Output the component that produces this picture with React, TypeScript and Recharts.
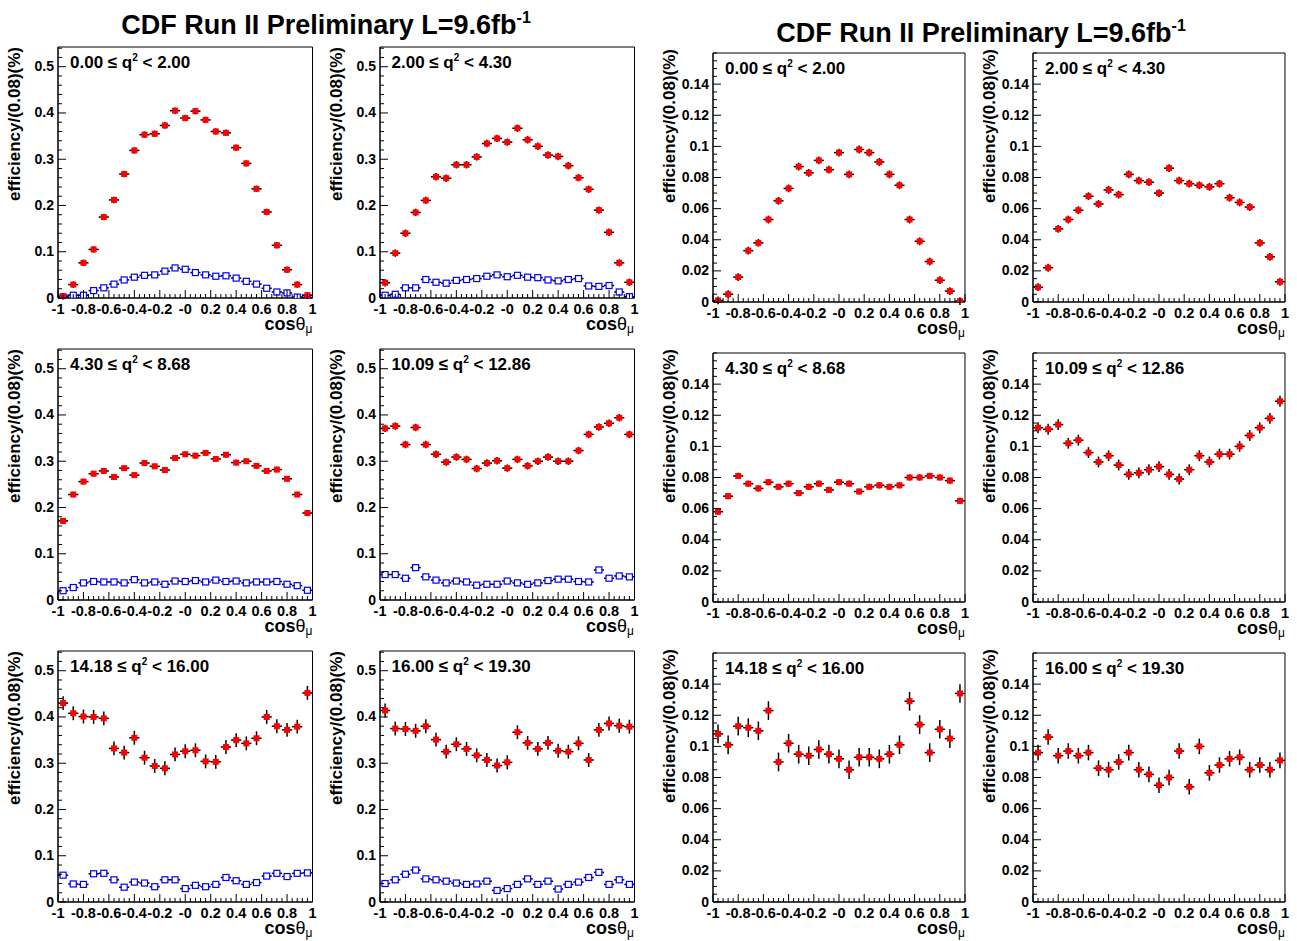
import React from 'react';
import { ScatterChart, Scatter, XAxis, YAxis, ErrorBar, ReferenceArea } from 'recharts';

// bin centres of cos(theta_mu), bin width 0.08
const cosBins = [
  -0.96, -0.88, -0.8, -0.72, -0.64, -0.56, -0.48, -0.4, -0.32, -0.24, -0.16, -0.08, 0,
  0.08, 0.16, 0.24, 0.32, 0.4, 0.48, 0.56, 0.64, 0.72, 0.8, 0.88, 0.96,
];
const binHalf = 0.04;

const qBins = [
  ['0.00', '2.00'],
  ['2.00', '4.30'],
  ['4.30', '8.68'],
  ['10.09', '12.86'],
  ['14.18', '16.00'],
  ['16.00', '19.30'],
];

// left block: red = full squares, blue = open squares
const leftRed1 = [0.004, 0.029, 0.076, 0.105, 0.175, 0.212, 0.268, 0.319, 0.353, 0.355, 0.373, 0.405, 0.389, 0.404, 0.385, 0.36, 0.357, 0.325, 0.291, 0.236, 0.186, 0.114, 0.061, 0.029, 0.006];
const leftBlue1 = [0.002, 0.006, 0.006, 0.016, 0.022, 0.03, 0.039, 0.045, 0.049, 0.05, 0.058, 0.065, 0.062, 0.055, 0.05, 0.047, 0.048, 0.043, 0.036, 0.03, 0.021, 0.013, 0.011, 0.002, 0.001];
const leftRed2 = [0.033, 0.097, 0.14, 0.185, 0.211, 0.262, 0.259, 0.288, 0.288, 0.305, 0.334, 0.345, 0.337, 0.367, 0.342, 0.328, 0.309, 0.306, 0.286, 0.26, 0.235, 0.19, 0.142, 0.076, 0.034];
const leftBlue2 = [0.006, 0.008, 0.022, 0.022, 0.04, 0.034, 0.032, 0.038, 0.04, 0.042, 0.047, 0.05, 0.046, 0.049, 0.045, 0.044, 0.039, 0.037, 0.04, 0.042, 0.026, 0.025, 0.027, 0.013, 0.003];
const leftRed3 = [0.171, 0.228, 0.256, 0.273, 0.279, 0.266, 0.285, 0.27, 0.296, 0.289, 0.281, 0.307, 0.315, 0.312, 0.318, 0.305, 0.314, 0.297, 0.3, 0.29, 0.279, 0.282, 0.262, 0.228, 0.188];
const leftBlue3 = [0.02, 0.027, 0.037, 0.04, 0.039, 0.039, 0.037, 0.044, 0.037, 0.039, 0.034, 0.041, 0.04, 0.042, 0.039, 0.043, 0.04, 0.041, 0.037, 0.039, 0.039, 0.04, 0.034, 0.031, 0.021];
const leftRed4 = [0.371, 0.376, 0.336, 0.373, 0.336, 0.315, 0.298, 0.309, 0.304, 0.284, 0.296, 0.301, 0.285, 0.304, 0.29, 0.3, 0.309, 0.3, 0.3, 0.323, 0.358, 0.374, 0.382, 0.394, 0.358];
const leftBlue4 = [0.055, 0.055, 0.047, 0.07, 0.05, 0.043, 0.037, 0.041, 0.039, 0.032, 0.034, 0.034, 0.041, 0.037, 0.034, 0.037, 0.042, 0.045, 0.045, 0.04, 0.039, 0.065, 0.047, 0.052, 0.05];
const leftRed5 = [0.43, 0.408, 0.401, 0.4, 0.397, 0.332, 0.323, 0.355, 0.312, 0.294, 0.289, 0.319, 0.326, 0.328, 0.304, 0.303, 0.335, 0.35, 0.343, 0.354, 0.4, 0.38, 0.372, 0.379, 0.452];
const leftBlue5 = [0.058, 0.039, 0.038, 0.061, 0.062, 0.048, 0.032, 0.043, 0.041, 0.033, 0.048, 0.048, 0.029, 0.036, 0.033, 0.038, 0.053, 0.046, 0.038, 0.042, 0.056, 0.062, 0.055, 0.062, 0.063];
const leftRed6 = [0.414, 0.375, 0.374, 0.37, 0.38, 0.351, 0.325, 0.341, 0.331, 0.317, 0.307, 0.295, 0.302, 0.367, 0.344, 0.331, 0.344, 0.327, 0.325, 0.343, 0.307, 0.372, 0.386, 0.381, 0.379];
const leftBlue6 = [0.04, 0.048, 0.06, 0.069, 0.05, 0.048, 0.045, 0.041, 0.038, 0.039, 0.045, 0.025, 0.029, 0.038, 0.05, 0.038, 0.045, 0.028, 0.038, 0.043, 0.053, 0.064, 0.038, 0.048, 0.038];
const leftRedErr = [0.007, 0.008, 0.006, 0.008, 0.015, 0.015];
const leftBlueErr = [0.002, 0.002, 0.002, 0.002, 0.003, 0.003];

// right block
const rightRed1 = [0.001, 0.005, 0.016, 0.033, 0.038, 0.053, 0.065, 0.073, 0.087, 0.083, 0.091, 0.085, 0.096, 0.082, 0.098, 0.096, 0.09, 0.082, 0.075, 0.053, 0.039, 0.026, 0.014, 0.007, 0.0005];
const rightRed2 = [0.0095, 0.022, 0.047, 0.053, 0.059, 0.068, 0.063, 0.072, 0.069, 0.082, 0.078, 0.077, 0.07, 0.086, 0.078, 0.076, 0.075, 0.074, 0.076, 0.067, 0.064, 0.061, 0.038, 0.029, 0.013];
const rightRed3 = [0.058, 0.068, 0.081, 0.076, 0.073, 0.077, 0.074, 0.076, 0.07, 0.074, 0.076, 0.072, 0.077, 0.076, 0.071, 0.074, 0.075, 0.074, 0.075, 0.08, 0.08, 0.081, 0.08, 0.078, 0.065];
const rightRed4 = [0.112, 0.111, 0.114, 0.102, 0.104, 0.096, 0.09, 0.094, 0.088, 0.082, 0.083, 0.085, 0.087, 0.082, 0.079, 0.085, 0.094, 0.09, 0.095, 0.095, 0.1, 0.107, 0.112, 0.118, 0.129];
const rightRed5 = [0.108, 0.101, 0.113, 0.112, 0.11, 0.123, 0.09, 0.102, 0.095, 0.094, 0.098, 0.095, 0.092, 0.085, 0.093, 0.093, 0.092, 0.095, 0.101, 0.129, 0.114, 0.096, 0.111, 0.105, 0.134];
const rightRed6 = [0.096, 0.106, 0.094, 0.097, 0.094, 0.096, 0.086, 0.085, 0.09, 0.096, 0.085, 0.082, 0.075, 0.08, 0.097, 0.074, 0.1, 0.083, 0.088, 0.092, 0.093, 0.085, 0.088, 0.085, 0.091];
const rightRedErr = [0.0025, 0.0025, 0.002, 0.0035, 0.006, 0.005];

// axis ticks
const xMajor = [-1, -0.8, -0.6, -0.4, -0.2, 0, 0.2, 0.4, 0.6, 0.8, 1];
const xMajorLabels = ['-1', '-0.8', '-0.6', '-0.4', '-0.2', '-0', '0.2', '0.4', '0.6', '0.8', '1'];
const yLeftMajor = [0, 0.1, 0.2, 0.3, 0.4, 0.5];
const yLeftLabels = ['0', '0.1', '0.2', '0.3', '0.4', '0.5'];
const yRightMajor = [0, 0.02, 0.04, 0.06, 0.08, 0.1, 0.12, 0.14];
const yRightLabels = ['0', '0.02', '0.04', '0.06', '0.08', '0.1', '0.12', '0.14'];

const FONT = '"Liberation Sans", Arial, Helvetica, sans-serif';

function withMinors(majors: number[], n: number, max: number) {
  const step = (majors[1] - majors[0]) / n;
  const out: number[] = [];
  for (let v = majors[0]; v <= max + 1e-9; v += step) out.push(Math.round(v * 10000) / 10000);
  return out;
}

const findIdx = (arr: number[], v: number) => arr.findIndex((m) => Math.abs(m - v) < 1e-6);

const xTicks = withMinors(xMajor, 5, 1);

const XTick = (props: any) => {
  const { x, y, payload } = props;
  const i = findIdx(xMajor, payload.value);
  return (
    <g>
      <line x1={x} x2={x} y1={y} y2={y - (i >= 0 ? 8 : 4)} stroke="#000" />
      {i >= 0 && (
        <text x={x} y={y + 15.5} textAnchor="middle" fontSize={14.5} fontWeight="bold" fontFamily={FONT} fill="#000">
          {xMajorLabels[i]}
        </text>
      )}
    </g>
  );
};

const makeYTick = (majors: number[], labels: string[]) => (props: any) => {
  const { x, y, payload } = props;
  const i = findIdx(majors, payload.value);
  return (
    <g>
      <line x1={x} x2={x + (i >= 0 ? 8 : 4)} y1={y} y2={y} stroke="#000" />
      {i >= 0 && (
        <text x={x - 4} y={y + 4.5} textAnchor="end" fontSize={14} fontWeight="bold" fontFamily={FONT} fill="#000">
          {labels[i]}
        </text>
      )}
    </g>
  );
};

const toPoints = (vals: number[], err: number) =>
  cosBins.map((x, i) => ({ x, y: vals[i], ex: binHalf, ey: err }));

const redSquare = (p: any) => <rect x={p.cx - 3} y={p.cy - 3} width={6} height={6} fill="#ff0000" />;
const blueSquare = (p: any) => (
  <rect x={p.cx - 3} y={p.cy - 3} width={6} height={6} fill="#fff" stroke="#0000ff" strokeWidth={1.2} />
);

interface PanelProps {
  left: number;
  top: number;
  w: number;
  h: number;
  yMax: number;
  right?: boolean;
  red: number[];
  redErr: number;
  blue?: number[];
  blueErr?: number;
}

function Panel({ left, top, w, h, yMax, right, red, redErr, blue, blueErr }: PanelProps) {
  const ML = 50, MT = 8, MR = 8, XH = 28;
  const yTicks = right ? withMinors(yRightMajor, 4, 0.16) : withMinors(yLeftMajor, 5, 0.54);
  const YTick = right ? makeYTick(yRightMajor, yRightLabels) : makeYTick(yLeftMajor, yLeftLabels);
  return (
    <div style={{ position: 'absolute', left: left - ML, top: top - MT }}>
      <ScatterChart width={ML + w + MR} height={MT + h + XH} margin={{ top: MT, right: MR, bottom: 0, left: 0 }}>
        <XAxis type="number" dataKey="x" domain={[-1, 1]} ticks={xTicks} interval={0} tick={XTick}
          tickSize={0} tickMargin={0} height={XH} allowDataOverflow axisLine={{ stroke: '#000' }} tickLine={false} />
        <YAxis type="number" dataKey="y" domain={[0, yMax]} ticks={yTicks} interval={0} tick={YTick}
          tickSize={0} tickMargin={0} width={ML} allowDataOverflow axisLine={{ stroke: '#000' }} tickLine={false} />
        <ReferenceArea x1={-1} x2={1} y1={0} y2={yMax} fill="none" stroke="#000" strokeWidth={1} />
        {blue && (
          <Scatter data={toPoints(blue, blueErr ?? 0)} shape={blueSquare} isAnimationActive={false}>
            <ErrorBar dataKey="ex" direction="x" width={0} stroke="#000" isAnimationActive={false} />
            <ErrorBar dataKey="ey" direction="y" width={0} stroke="#000" isAnimationActive={false} />
          </Scatter>
        )}
        <Scatter data={toPoints(red, redErr)} shape={redSquare} isAnimationActive={false}>
          <ErrorBar dataKey="ex" direction="x" width={0} stroke="#000" isAnimationActive={false} />
          <ErrorBar dataKey="ey" direction="y" width={0} stroke="#000" isAnimationActive={false} />
        </Scatter>
      </ScatterChart>
    </div>
  );
}

const leftReds = [leftRed1, leftRed2, leftRed3, leftRed4, leftRed5, leftRed6];
const leftBlues = [leftBlue1, leftBlue2, leftBlue3, leftBlue4, leftBlue5, leftBlue6];
const rightReds = [rightRed1, rightRed2, rightRed3, rightRed4, rightRed5, rightRed6];

const leftCols = [58, 379.5];
const leftRows = [47, 349, 651];
const rightCols = [713, 1033];
const rightRows = [53, 353, 653];
const LW = 254.5, LH = 251, RW = 252, RH = 249;

function PanelText({ left, top, w, h, q, titleTop }: { left: number; top: number; w: number; h: number; q: string[]; titleTop: number }) {
  const tx = left - 38;
  return (
    <g fontFamily={FONT} fontWeight="bold" fill="#000" style={{ whiteSpace: 'pre' }}>
      <text x={left + 12} y={top + 21} fontSize={17}>
        <tspan>{q[0] + ' \u2264 q'}</tspan>
        <tspan dy={-7} fontSize={10}>2</tspan>
        <tspan dy={7}>{' < ' + q[1]}</tspan>
      </text>
      <text x={tx} y={titleTop} fontSize={17} textAnchor="end" transform={`rotate(-90 ${tx} ${titleTop})`}>
        efficiency/(0.08)(%)
      </text>
      <text x={left + w} y={top + h + 32} fontSize={18} textAnchor="end">
        <tspan>cos</tspan>
        <tspan fontWeight="normal">θ</tspan>
        <tspan dy={3} fontSize={12} fontWeight="normal">μ</tspan>
      </text>
    </g>
  );
}

function Title({ cx, y }: { cx: number; y: number }) {
  return (
    <text x={cx} y={y} textAnchor="middle" fontFamily={FONT} fontWeight="bold" fontSize={27} fill="#000">
      <tspan>CDF Run II Preliminary L=9.6fb</tspan>
      <tspan dy={-11} fontSize={16}>-1</tspan>
    </text>
  );
}

export default function App() {
  const panels: React.ReactNode[] = [];
  const texts: React.ReactNode[] = [];
  for (let k = 0; k < 6; k++) {
    const r = Math.floor(k / 2), c = k % 2;
    panels.push(
      <Panel key={`l${k}`} left={leftCols[c]} top={leftRows[r]} w={LW} h={LH} yMax={0.5426}
        red={leftReds[k]} redErr={leftRedErr[k]} blue={leftBlues[k]} blueErr={leftBlueErr[k]} />,
      <Panel key={`r${k}`} left={rightCols[c]} top={rightRows[r]} w={RW} h={RH} yMax={0.16} right
        red={rightReds[k]} redErr={rightRedErr[k]} />
    );
    texts.push(
      <PanelText key={`tl${k}`} left={leftCols[c]} top={leftRows[r]} w={LW} h={LH} q={qBins[k]} titleTop={leftRows[r]} />,
      <PanelText key={`tr${k}`} left={rightCols[c]} top={rightRows[r]} w={RW} h={RH} q={qBins[k]} titleTop={rightRows[r] - 4} />
    );
  }
  return (
    <div style={{ position: 'absolute', left: 0, top: 0, width: 1297, height: 941, background: '#fff', overflow: 'hidden' }}>
      {panels}
      <svg width={1297} height={941} style={{ position: 'absolute', left: 0, top: 0, pointerEvents: 'none' }}>
        <Title cx={326} y={34} />
        <Title cx={981} y={42} />
        {texts}
      </svg>
    </div>
  );
}
